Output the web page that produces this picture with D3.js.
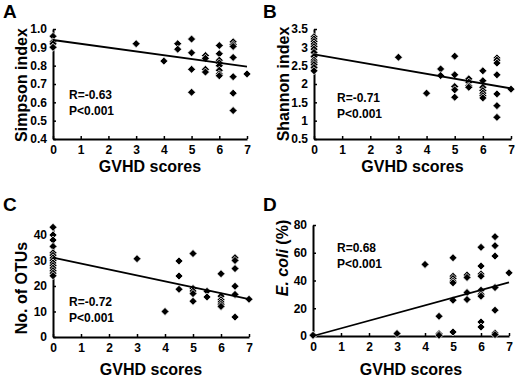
<!DOCTYPE html>
<html>
<head>
<meta charset="utf-8">
<script src="https://cdn.jsdelivr.net/npm/d3@7"></script>
<style>
  body { margin: 0; background: #fff; }
  svg { display: block; font-family: "Liberation Sans", Arial, sans-serif; font-weight: bold; }
</style>
</head>
<body>
<div id="chart"></div>
<script>
const xTicks = [0, 1, 2, 3, 4, 5, 6, 7];
const simpsonTicks = [0.4, 0.5, 0.6, 0.7, 0.8, 0.9, 1.0];
const shannonTicks = [0.5, 1, 1.5, 2, 2.5, 3, 3.5];
const otuTicks = [0, 10, 20, 30, 40];
const ecoliTicks = [0, 20, 40, 60, 80];

// [GVHD score, value]
const simpson = [
  [0, 0.96], [0, 0.93], [0, 0.92], [0, 0.90], [0, 0.90],
  [3, 0.92], [4, 0.825], [4.5, 0.92], [4.5, 0.89],
  [5, 0.945], [5, 0.87], [5, 0.78], [5, 0.655],
  [5.5, 0.855], [5.5, 0.84], [5.5, 0.78], [5.5, 0.765],
  [6, 0.91], [6, 0.865], [6, 0.83], [6, 0.815], [6, 0.80], [6, 0.775], [6, 0.755], [6, 0.745],
  [6.5, 0.93], [6.5, 0.915], [6.5, 0.905], [6.5, 0.845], [6.5, 0.74], [6.5, 0.65], [6.5, 0.555],
  [7, 0.755]
];
const shannon = [
  [0, 3.29], [0, 3.23], [0, 3.16], [0, 3.09], [0, 3.02], [0, 2.95], [0, 2.86],
  [0, 2.75], [0, 2.65], [0, 2.59], [0, 2.53], [0, 2.45], [0, 2.36],
  [3, 2.73], [4, 1.75], [4.5, 2.41], [4.5, 2.23],
  [5, 2.76], [5, 2.25], [5, 1.93], [5, 1.84], [5, 1.64],
  [5.5, 2.14], [5.5, 2.05], [5.5, 1.95], [5.5, 1.91],
  [6, 2.36], [6, 2.09], [6, 1.91], [6, 1.82], [6, 1.75], [6, 1.68], [6, 1.62],
  [6.5, 2.71], [6.5, 2.65], [6.5, 2.57], [6.5, 2.25], [6.5, 1.73], [6.5, 1.41], [6.5, 1.09],
  [7, 1.86]
];
const otus = [
  [0, 43], [0, 40], [0, 38], [0, 35.5], [0, 33], [0, 32], [0, 31], [0, 30],
  [0, 29], [0, 28], [0, 27], [0, 26], [0, 25], [0, 24],
  [3, 30.7], [4, 10], [4.5, 29.8], [4.5, 23.9], [4.5, 18.7],
  [5, 32.7], [5, 19], [5, 18], [5, 17], [5, 14],
  [5.5, 17.9], [5.5, 15.7],
  [6, 24.8], [6, 16], [6, 14.6], [6, 13.7], [6, 12.8], [6, 12],
  [6.5, 31.1], [6.5, 30], [6.5, 26.8], [6.5, 19.9], [6.5, 16.7], [6.5, 7.8],
  [7, 14.8]
];
const ecoli = [
  [0, 0.5], [0, 0.5], [0, 0.5],
  [3, 1.8], [4, 51.6], [4.5, 14.2], [4.5, 1.7], [4.5, 0.5],
  [5, 56.4], [5, 43.1], [5, 41.4], [5, 39.5], [5, 38.3], [5, 25.8], [5, 2.9],
  [5.5, 43.9], [5.5, 42.2], [5.5, 31.3], [5.5, 26.3],
  [6, 63.9], [6, 50.4], [6, 44.6], [6, 43.1], [6, 33], [6, 30.1], [6, 28.7], [6, 10.1], [6, 6.5],
  [6.5, 71.6], [6.5, 65.1], [6.5, 57.6], [6.5, 34.9], [6.5, 18.6], [6.5, 2.2], [6.5, 1],
  [7, 45.5]
];

// fitted line, value at GVHD 0 and GVHD 7
const simpsonFit = [0.94, 0.795];
const shannonFit = [2.81, 1.88];
const otuFit = [31.1, 14.8];
const ecoliFit = [0, 38.6];

const panels = [
  { letter: "A", pts: simpson, fit: simpsonFit, ticks: simpsonTicks, domain: [0.4, 1.0], fmt: d3.format(".1f"),
    stats: ["R=-0.63", "P<0.001"], statX: 69, statY: 99,
    x0: 53, x1: 247, y0: 139, y1: 29, letterX: 3, letterY: 18, ytitleY: 85, ytitleX: 27, xtitleY: 172 },
  { letter: "B", pts: shannon, fit: shannonFit, ticks: shannonTicks, domain: [0.5, 3.5], fmt: d => String(d),
    stats: ["R=-0.71", "P<0.001"], statX: 337, statY: 102,
    x0: 314, x1: 511, y0: 139, y1: 29, letterX: 263, letterY: 18, ytitleY: 84, ytitleX: 289, xtitleY: 172 },
  { letter: "C", pts: otus, fit: otuFit, ticks: otuTicks, domain: [0, 43.5], fmt: d => String(d),
    stats: ["R=-0.72", "P<0.001"], statX: 69, statY: 306,
    x0: 53, x1: 249, y0: 337, y1: 226, letterX: 3, letterY: 211, ytitleY: 288, ytitleX: 27, xtitleY: 375 },
  { letter: "D", pts: ecoli, fit: ecoliFit, ticks: ecoliTicks, domain: [0, 80], fmt: d => String(d),
    stats: ["R=0.68", "P<0.001"], statX: 337, statY: 252,
    x0: 313, x1: 509, y0: 336, y1: 225, letterX: 263, letterY: 211, ytitleY: 258, ytitleX: 288, xtitleY: 375 }
];

const svg = d3.select("#chart").append("svg")
  .attr("width", 520)
  .attr("height", 381);

const diamond = d3.symbol().type(d3.symbolSquare).size(32);

panels.forEach(p => {
  const x = d3.scaleLinear().domain([0, 7]).range([p.x0, p.x1]);
  const y = d3.scaleLinear().domain(p.domain).range([p.y0, p.y1]);
  const g = svg.append("g");

  const xAxis = g.append("g")
    .attr("transform", `translate(0,${p.y0})`)
    .call(d3.axisBottom(x).tickValues(xTicks).tickFormat(d3.format("d"))
      .tickSizeInner(-3).tickSizeOuter(0).tickPadding(6));
  const yAxis = g.append("g")
    .attr("transform", `translate(${p.x0},0)`)
    .call(d3.axisLeft(y).tickValues(p.ticks).tickFormat(p.fmt)
      .tickSizeInner(-3).tickSizeOuter(0).tickPadding(6));

  [xAxis, yAxis].forEach(a => {
    a.attr("font-family", null);
    a.select(".domain").attr("stroke-width", 2);
    a.selectAll(".tick line").attr("stroke-width", 1.5);
    a.selectAll("text").attr("font-size", 12).attr("font-weight", "bold");
  });

  g.selectAll(".pt")
    .data(p.pts)
    .join("path")
    .attr("class", "pt")
    .attr("d", diamond)
    .attr("transform", d => `translate(${x(d[0])},${y(d[1])}) rotate(45)`)
    .attr("fill", "#000")
    .attr("stroke", "#fff")
    .attr("stroke-width", 0.7);

  g.append("line")
    .attr("x1", x(0)).attr("y1", y(p.fit[0]))
    .attr("x2", x(7)).attr("y2", y(p.fit[1]))
    .attr("stroke", "#000")
    .attr("stroke-width", 1.8);

  p.stats.forEach((s, i) => {
    g.append("text")
      .attr("x", p.statX)
      .attr("y", p.statY + i * 16)
      .attr("font-size", 12)
      .text(s);
  });

  g.append("text")
    .attr("x", p.letterX)
    .attr("y", p.letterY)
    .attr("font-size", 19)
    .text(p.letter);

  g.append("text")
    .attr("x", (p.x0 + p.x1) / 2)
    .attr("y", p.xtitleY)
    .attr("text-anchor", "middle")
    .attr("font-size", 16)
    .text("GVHD scores");

  const yt = g.append("text")
    .attr("transform", `translate(${p.ytitleX},${p.ytitleY}) rotate(-90)`)
    .attr("text-anchor", "middle")
    .attr("font-size", 16);
  if (p.letter === "D") {
    yt.append("tspan").attr("font-style", "italic").text("E. coli");
    yt.append("tspan").text(" (%)");
  } else {
    yt.text({ A: "Simpson index", B: "Shannon index", C: "No. of OTUs" }[p.letter]);
  }
});
</script>
</body>
</html>
